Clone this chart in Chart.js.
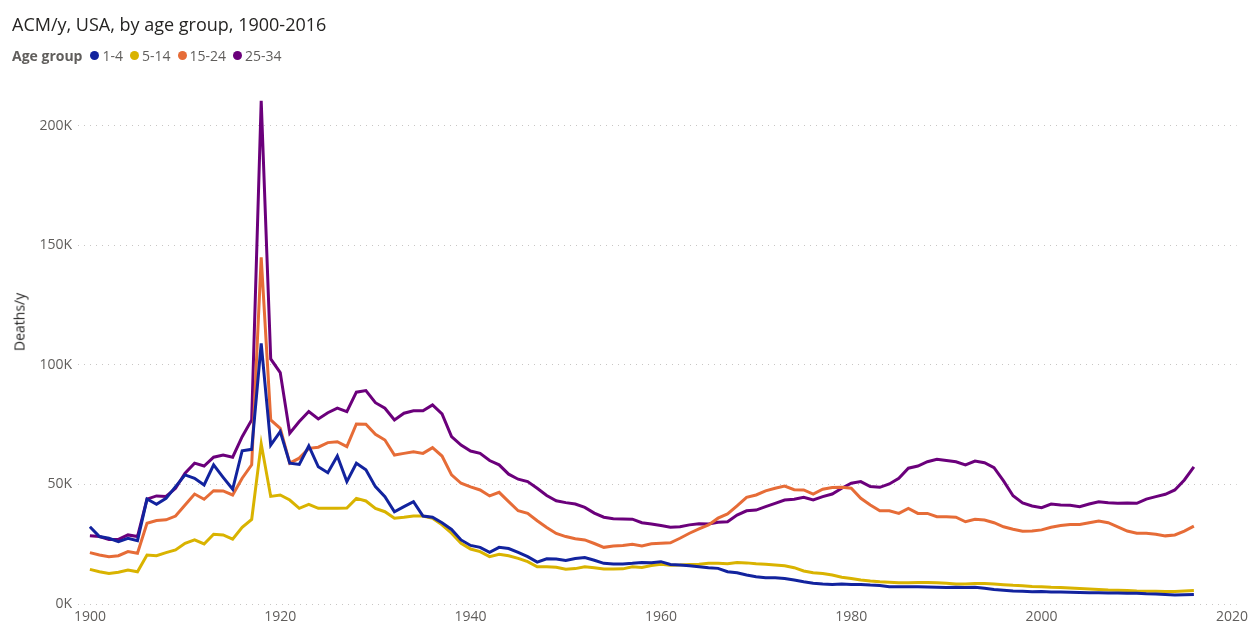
<!DOCTYPE html>
<html>
<head>
<meta charset="utf-8">
<script src="https://cdn.jsdelivr.net/npm/chart.js@4.4.1/dist/chart.umd.min.js"></script>
<style>
  body { margin: 0; background: #fff; font-family: "Segoe UI", "Open Sans", sans-serif; }
  #wrap { position: relative; width: 1253px; height: 625px; overflow: hidden; }
  #title { position: absolute; left: 12px; top: 12px; font-size: 18px; color: #252423; white-space: nowrap; }
  #legend { position: absolute; left: 12px; top: 46px; font-size: 14px; color: #605E5C; display: flex; align-items: center; white-space: nowrap; }
  #legend b { margin-right: 8px; }
  #legend .item { display: flex; align-items: center; margin-right: 7px; }
  #legend .dot { width: 9px; height: 9px; border-radius: 50%; margin-right: 3px; }
  #ytitle { position: absolute; left: 19px; top: 322px; transform: translate(-50%, -50%) rotate(-90deg); font-size: 14px; color: #252423; white-space: nowrap; }
  canvas { position: absolute; left: 0; top: 0; }
</style>
</head>
<body>
<div id="wrap">
  <canvas id="chart" width="1253" height="625"></canvas>
  <div id="title">ACM/y, USA, by age group, 1900-2016</div>
  <div id="legend"><b>Age group</b></div>
  <div id="ytitle">Deaths/y</div>
</div>
<script>
// deaths per year, in thousands, 1900..2016
var years = [];
for (var yr = 1900; yr <= 2016; yr++) years.push(yr);

var groups = ["1-4", "5-14", "15-24", "25-34"];
var colors = ["#12239E", "#D9B300", "#E66C37", "#6B007B"];
var xTicks = [1900, 1920, 1940, 1960, 1980, 2000, 2020];
var yTicks = [0, 50, 100, 150, 200];

var age1to4 = [
  32.3, 28.2, 27.5, 26.1, 27.5, 26.5, 43.9, 41.7, 44.2, 49.1,
  54.0, 52.6, 49.8, 58.2, 53.0, 48.0, 64.1, 64.7, 109.0, 66.5,
  72.1, 58.9, 58.4, 66.1, 57.4, 54.9, 61.9, 51.2, 58.9, 56.1,
  49.1, 44.9, 38.6, 40.7, 42.8, 36.8, 36.3, 34.0, 31.2, 26.8,
  24.5, 23.7, 21.6, 23.7, 23.2, 21.6, 19.8, 17.5, 18.9, 18.8,
  18.2, 19.0, 19.4, 18.3, 17.0, 16.7, 16.7, 17.0, 17.4, 17.3,
  17.7, 16.5, 16.3, 16.0, 15.6, 15.2, 14.9, 13.5, 13.1, 12.1,
  11.4, 11.0, 11.0, 10.7, 10.0, 9.3, 8.7, 8.4, 8.2, 8.4,
  8.2, 8.2, 7.9, 7.7, 7.2, 7.2, 7.2, 7.2, 7.1, 7.0,
  6.9, 7.0, 6.9, 7.0, 6.6, 6.1, 5.8, 5.4, 5.3, 5.1,
  5.2, 5.0, 5.0, 4.9, 4.8, 4.7, 4.7, 4.6, 4.6, 4.5,
  4.5, 4.3, 4.2, 4.0, 3.8, 3.9, 4.0
];
var age5to14 = [
  14.5, 13.5, 12.8, 13.3, 14.2, 13.5, 20.5, 20.2, 21.5, 22.6,
  25.4, 26.8, 25.1, 29.2, 28.9, 27.1, 32.1, 35.4, 67.0, 45.0,
  45.6, 43.5, 40.0, 41.7, 40.0, 40.0, 40.0, 40.1, 44.2, 43.1,
  40.0, 38.6, 35.9, 36.3, 36.8, 36.8, 35.9, 33.1, 29.6, 25.4,
  23.0, 21.9, 19.8, 20.8, 20.2, 19.1, 17.7, 15.6, 15.6, 15.4,
  14.5, 14.8, 15.6, 15.2, 14.6, 14.6, 14.7, 15.6, 15.3, 16.1,
  16.6, 16.2, 16.3, 16.5, 16.6, 17.0, 17.0, 16.8, 17.4, 17.2,
  16.8, 16.6, 16.3, 16.0, 15.2, 13.8, 13.1, 12.8, 12.1, 11.2,
  10.7, 10.0, 9.6, 9.3, 9.1, 8.9, 8.9, 9.0, 9.0, 8.9,
  8.7, 8.4, 8.4, 8.6, 8.6, 8.4, 8.1, 7.8, 7.6, 7.3,
  7.2, 7.0, 6.9, 6.7, 6.5, 6.3, 6.1, 5.9, 5.8, 5.6,
  5.4, 5.3, 5.3, 5.2, 5.2, 5.4, 5.6
];
var age15to24 = [
  21.5, 20.5, 19.8, 20.2, 21.9, 21.2, 33.8, 34.9, 35.2, 36.8,
  41.4, 46.0, 43.8, 47.4, 47.3, 45.6, 52.6, 58.2, 145.0, 77.0,
  73.5, 58.9, 61.0, 65.1, 65.6, 67.5, 67.9, 65.8, 75.3, 75.2,
  71.0, 68.6, 62.3, 63.0, 63.7, 63.0, 65.4, 61.9, 54.0, 50.5,
  49.0, 47.7, 45.2, 46.7, 42.8, 39.0, 37.9, 34.8, 32.0, 29.5,
  28.2, 27.3, 26.8, 25.3, 23.7, 24.3, 24.5, 25.0, 24.3, 25.2,
  25.4, 25.6, 27.5, 29.6, 31.4, 33.1, 35.9, 37.7, 41.0, 44.6,
  45.6, 47.3, 48.4, 49.3, 47.8, 47.7, 46.0, 48.0, 48.7, 48.8,
  48.4, 44.2, 41.4, 39.0, 39.0, 37.9, 40.0, 37.9, 37.9, 36.5,
  36.5, 36.3, 34.4, 35.4, 35.1, 34.0, 32.3, 31.3, 30.4, 30.5,
  31.0, 32.1, 32.8, 33.3, 33.3, 34.0, 34.7, 34.0, 32.3, 30.5,
  29.6, 29.6, 29.2, 28.5, 28.9, 30.5, 32.6
];
var age25to34 = [
  28.5, 28.2, 27.0, 27.0, 28.9, 28.2, 43.9, 45.2, 45.0, 48.4,
  54.7, 58.9, 57.7, 61.4, 62.3, 61.4, 70.0, 77.0, 210.5, 102.5,
  96.8, 71.4, 76.3, 80.5, 77.4, 80.0, 81.9, 80.5, 88.6, 89.3,
  84.2, 81.9, 77.0, 79.8, 80.8, 80.8, 83.3, 79.5, 70.0, 66.5,
  64.0, 63.0, 60.0, 58.2, 54.3, 52.2, 51.2, 48.4, 45.4, 43.2,
  42.4, 41.8, 40.4, 38.0, 36.3, 35.7, 35.6, 35.5, 34.0, 33.5,
  32.8, 32.1, 32.3, 33.1, 33.6, 33.5, 34.2, 34.4, 37.2, 39.0,
  39.3, 40.7, 42.1, 43.5, 43.8, 44.6, 43.5, 44.9, 46.0, 48.4,
  50.5, 51.2, 49.1, 48.8, 50.2, 52.6, 56.8, 57.7, 59.5, 60.5,
  60.0, 59.5, 58.2, 59.8, 59.1, 57.0, 51.5, 45.3, 42.3, 41.0,
  40.3, 41.8, 41.4, 41.3, 40.7, 41.8, 42.8, 42.4, 42.1, 42.2,
  42.1, 43.9, 44.9, 45.9, 47.7, 51.9, 57.4
];

var series = [age1to4, age5to14, age15to24, age25to34];

// legend
var legend = document.getElementById("legend");
groups.forEach(function(g, i) {
  var item = document.createElement("span");
  item.className = "item";
  item.innerHTML = '<span class="dot" style="background:' + colors[i] + '"></span>' + g;
  legend.appendChild(item);
});

var datasets = series.map(function(vals, i) {
  return {
    label: groups[i],
    data: years.map(function(y, j) { return { x: y, y: vals[j] }; }),
    borderColor: colors[i],
    backgroundColor: colors[i],
    borderWidth: 3,
    pointRadius: 0,
    tension: 0,
    fill: false
  };
});

var ctx = document.getElementById("chart").getContext("2d");
new Chart(ctx, {
  type: "line",
  data: { datasets: datasets },
  options: {
    responsive: false,
    animation: false,
    devicePixelRatio: 1,
    layout: { padding: { top: 90, right: 11, left: 0, bottom: 0 } },
    plugins: {
      legend: { display: false },
      title: { display: false },
      tooltip: { enabled: false }
    },
    scales: {
      x: {
        type: "linear",
        min: 1898.75,
        max: 2020.5,
        afterBuildTicks: function(scale) {
          scale.ticks = xTicks.map(function(v) { return { value: v }; });
        },
        afterFit: function(scale) { scale.height = 21; },
        grid: { display: false, drawTicks: false },
        border: { display: false },
        ticks: {
          padding: 5,
          color: "#605E5C",
          font: { family: "'Segoe UI', 'Open Sans', sans-serif", size: 14 },
          callback: function(v) { return String(v); }
        }
      },
      y: {
        type: "linear",
        min: 0,
        max: 215,
        afterBuildTicks: function(scale) {
          scale.ticks = yTicks.map(function(v) { return { value: v }; });
        },
        afterFit: function(scale) { scale.width = 78; },
        grid: {
          color: "#C8C6C4",
          lineWidth: 1,
          drawTicks: false
        },
        border: { display: false, dash: [1, 5] },
        ticks: {
          padding: 6,
          color: "#605E5C",
          font: { family: "'Segoe UI', 'Open Sans', sans-serif", size: 14 },
          callback: function(v) { return v + "K"; }
        }
      }
    }
  }
});
</script>
</body>
</html>
